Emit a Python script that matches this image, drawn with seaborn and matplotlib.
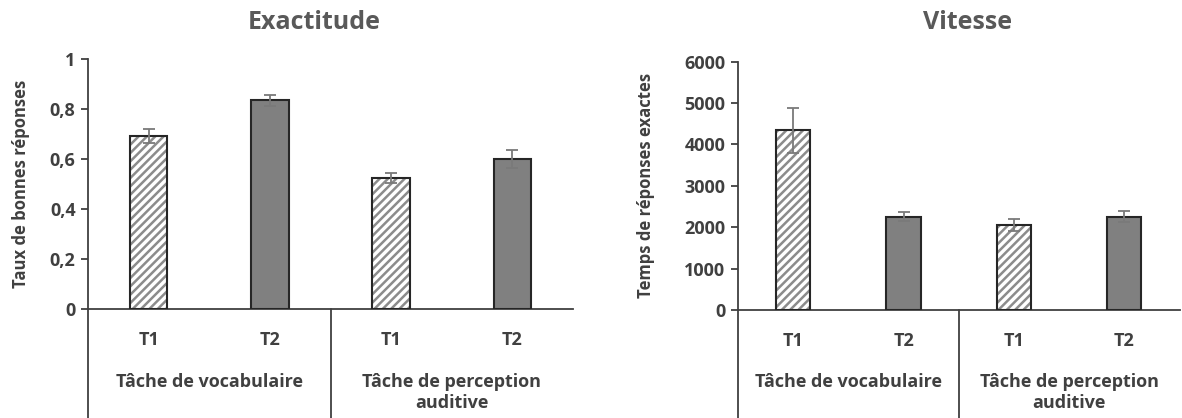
import pandas as pd
import seaborn as sns
import numpy as np
import matplotlib.pyplot as plt
from matplotlib.patches import Rectangle

# data
positions = ['voc_T1', 'voc_T2', 'per_T1', 'per_T2']
sessions = ['T1', 'T2', 'T1', 'T2']
tasks = ['Tâche de vocabulaire', 'Tâche de perception\nauditive']

accuracy = [0.692, 0.836, 0.524, 0.600]
accuracy_err = [0.028, 0.022, 0.021, 0.037]

speed = [4340, 2250, 2055, 2250]
speed_err = [545, 110, 150, 130]

sns.set_style('white')
plt.rcParams['font.family'] = ['Open Sans', 'DejaVu Sans']
plt.rcParams['hatch.linewidth'] = 1.8

TXT = '#404040'
EDGE = '#262626'
HATCH = '#8c8c8c'
SOLID = '#808080'
ERR = '#7a7a7a'
FS = 13

fig = plt.figure(figsize=(11.82, 4.18), dpi=100)
ax1 = fig.add_axes([0.0745, 0.2608, 0.4103, 0.598])
ax2 = fig.add_axes([0.6244, 0.2584, 0.3735, 0.594])


def draw(ax, values, errs, title, title_x, ylabel, ymax, step, fmt, ylpad):
    df = pd.DataFrame({'pos': positions, 'val': values})
    sns.barplot(data=df, x='pos', y='val', order=positions, width=0.31,
                color=SOLID, errorbar=None, ax=ax)
    for i, p in enumerate(ax.patches):
        x, w, h = p.get_x(), p.get_width(), p.get_height()
        if sessions[i] == 'T1':
            p.set_facecolor('white')
            p.set_hatch('////')
            p.set_edgecolor(HATCH)
            p.set_linewidth(0)
        else:
            p.set_facecolor(SOLID)
            p.set_linewidth(0)
        ax.add_patch(Rectangle((x, 0), w, h, fill=False, edgecolor=EDGE,
                               linewidth=1.5, zorder=3))
        ax.errorbar(x + w / 2, h, yerr=errs[i], color=ERR, capsize=4,
                    elinewidth=1.3, capthick=1.3, zorder=4)

    ax.set_xlim(-0.5, 3.5)
    ax.set_ylim(0, ymax)
    ticks = np.arange(0, ymax + step / 2, step)
    ax.set_yticks(ticks)
    ax.set_yticklabels([fmt(t) for t in ticks], fontsize=FS,
                       fontweight='bold', color=TXT)
    ax.set_xticks(range(4))
    ax.set_xticklabels(sessions, fontsize=FS, fontweight='bold', color=TXT)
    ax.tick_params(axis='x', length=0, pad=16)
    ax.tick_params(axis='y', length=5, width=1.3, color=TXT, direction='out',
                   left=True, pad=4)
    ax.set_xlabel('')
    ax.set_ylabel(ylabel, fontsize=12, fontweight='bold', color=TXT,
                  labelpad=ylpad)
    # chart title is centred on the whole chart area, not the plot area
    fig.text(title_x, 0.947, title, ha='center', va='center', fontsize=18,
             fontweight='bold', color='#595959')

    sns.despine(ax=ax, top=True, right=True)
    for s in ['left', 'bottom']:
        ax.spines[s].set_color(TXT)
        ax.spines[s].set_linewidth(1.3)

    # multi-level category axis
    trans = ax.get_xaxis_transform()
    ax.plot([-0.5, -0.5], [0, -0.5], transform=trans, color=TXT,
            linewidth=1.3, clip_on=False)
    ax.plot([1.5, 1.5], [0, -0.5], transform=trans, color=TXT,
            linewidth=1.3, clip_on=False)
    ax.text(0.5, -0.255, tasks[0], transform=trans, ha='center', va='top',
            fontsize=FS, fontweight='bold', color=TXT)
    ax.text(2.5, -0.255, tasks[1], transform=trans, ha='center', va='top',
            fontsize=FS, fontweight='bold', color=TXT, linespacing=1.2)


draw(ax1, accuracy, accuracy_err, 'Exactitude', 314 / 1182,
     'Taux de bonnes réponses', 1.0, 0.2,
     lambda t: '0' if t == 0 else ('1' if abs(t - 1) < 1e-9 else f'{t:.1f}'.replace('.', ',')),
     14)
draw(ax2, speed, speed_err, 'Vitesse', 968 / 1182,
     'Temps de réponses exactes', 6000, 1000,
     lambda t: f'{int(round(t))}', 21)

fig.savefig('out.png', dpi=100)
